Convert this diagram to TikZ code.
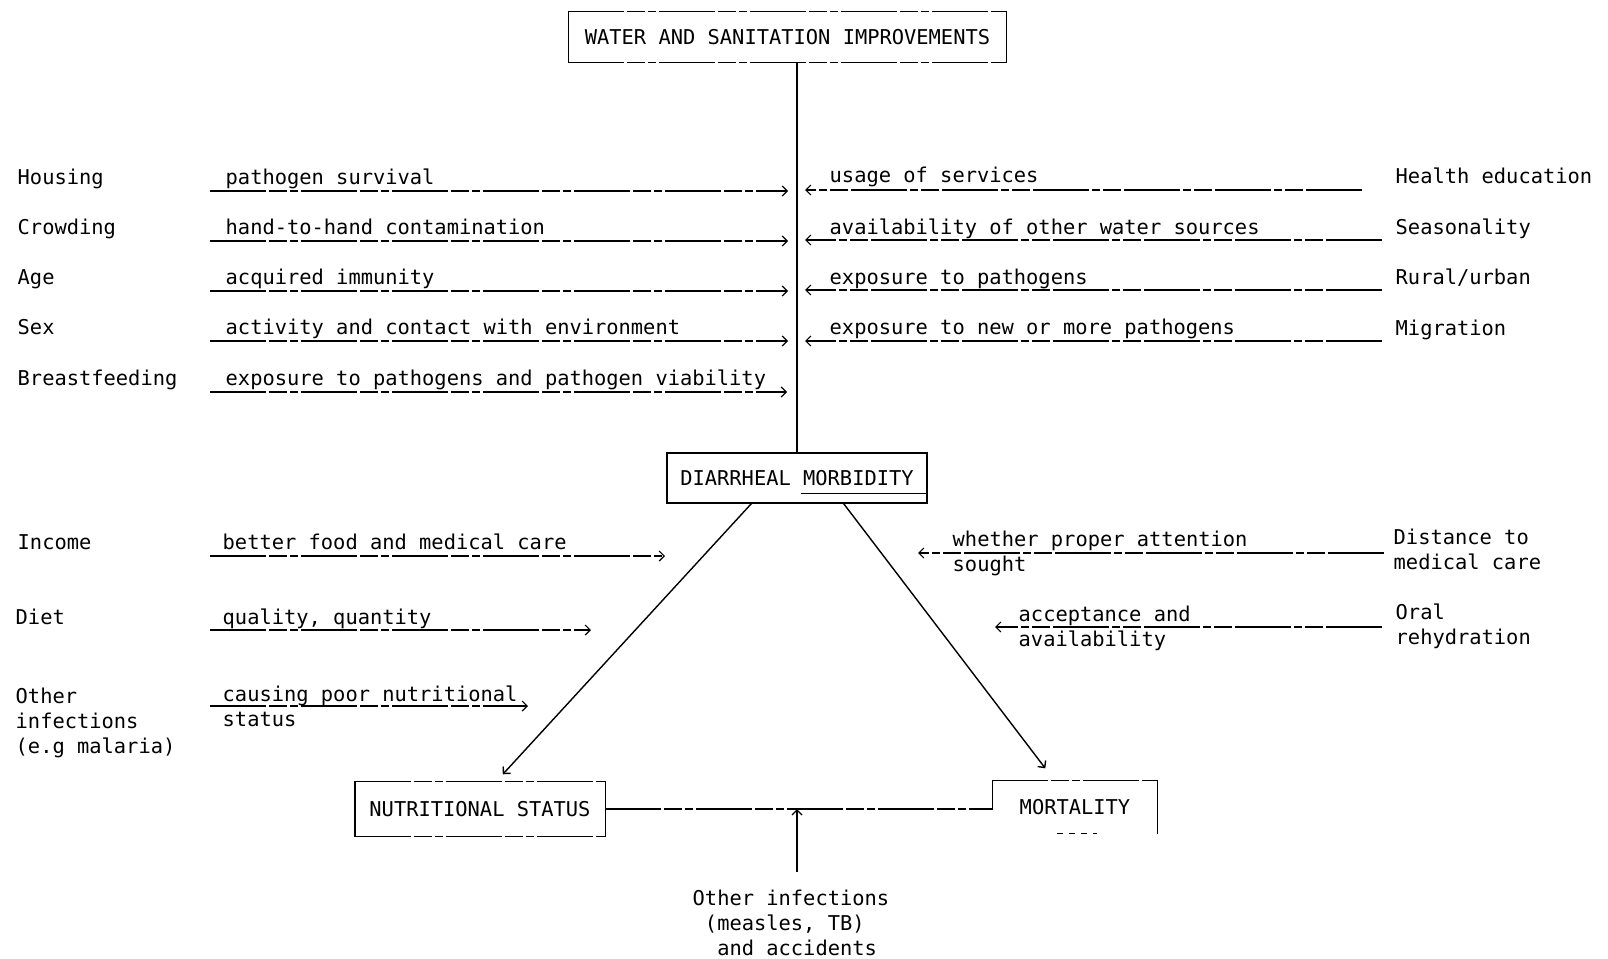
\documentclass[tikz,border=0pt]{standalone}
\usepackage{fontspec}
\setmainfont{DejaVu Sans Mono}
\usetikzlibrary{arrows.meta, calc}

\tikzset{
  txt/.style={anchor=base west, inner sep=0pt, align=left, font=\fontsize{10.2}{12.5}\selectfont},
  box/.style={inner sep=0pt, font=\fontsize{10.2}{12.5}\selectfont},
  guide/.style={line width=0.6pt, dash pattern=on 28pt off 1.5pt on 9pt off 1.5pt on 4pt off 1.5pt},
  tip/.style={-{Straight Barb[length=2.5pt,width=5pt]}},
}

\begin{document}
\begin{tikzpicture}[x=0.5pt, y=-0.5pt, line width=0.7pt]
  \useasboundingbox (0,0) rectangle (1608,959);

  % Main boxes
  \node[box, minimum width=218.5pt, minimum height=25pt] (wsi) at (787.5,37) {WATER AND SANITATION IMPROVEMENTS};
  \draw (wsi.north west) -- (wsi.south west);
  \draw (wsi.north east) -- (wsi.south east);
  \draw[guide] (wsi.north west) -- (wsi.north east);
  \draw[guide] (wsi.south west) -- (wsi.south east);

  \node[box, draw, minimum width=130pt, minimum height=25pt] (dm) at (797,478) {DIARRHEAL MORBIDITY};
  \draw ($(dm.south east)+(0,-10)$) -- ($(dm.south east)+(-127,-10)$);

  \node[box, minimum width=124.5pt, minimum height=27pt] (ns) at (480,809) {NUTRITIONAL STATUS};
  \draw (ns.north west) -- (ns.south west);
  \draw (ns.north east) -- (ns.south east);
  \draw[guide] (ns.north west) -- (ns.north east);
  \draw[guide] (ns.south west) -- (ns.south east);

  \node[box, minimum width=82pt, minimum height=26pt] (mo) at (1075,807) {MORTALITY};
  \draw (mo.north west) -- ($(mo.north west)+(0,30)$);
  \draw (mo.north east) -- (mo.south east);
  \draw[guide] (mo.north west) -- (mo.north east);
  \draw[dashed] ($(mo.south)+(-18,0)$) -- ($(mo.south)+(22,0)$);

  % Spine from the improvements down to morbidity
  \draw[line width=0.9pt] (wsi.south -| dm.north) -- (dm.north);

  % Left-hand factors
  \node[txt] (housing) at (17,184) {Housing};
  \node[txt] (crowding) at (17,234) {Crowding};
  \node[txt] (age) at (17,284) {Age};
  \node[txt] (sex) at (17,334) {Sex};
  \node[txt] (breast) at (17,385) {Breastfeeding};

  \node[txt] (survival) at (225,184) {pathogen survival};
  \node[txt] (handtohand) at (225,234) {hand-to-hand contamination};
  \node[txt] (immunity) at (225,284) {acquired immunity};
  \node[txt] (activity) at (225,334) {activity and contact with environment};
  \node[txt] (viability) at (225,385) {exposure to pathogens and pathogen viability};

  \coordinate (survival-s) at (210,191);   \coordinate (survival-e) at (788,191);
  \coordinate (handtohand-s) at (210,241); \coordinate (handtohand-e) at (788,241);
  \coordinate (immunity-s) at (210,291);   \coordinate (immunity-e) at (788,291);
  \coordinate (activity-s) at (210,341);   \coordinate (activity-e) at (788,341);
  \coordinate (viability-s) at (210,392);  \coordinate (viability-e) at (787,392);
  \draw[guide, tip] (survival-s) -- (survival-e);
  \draw[guide, tip] (handtohand-s) -- (handtohand-e);
  \draw[guide, tip] (immunity-s) -- (immunity-e);
  \draw[guide, tip] (activity-s) -- (activity-e);
  \draw[guide, tip] (viability-s) -- (viability-e);

  % Right-hand factors
  \node[txt] (usage) at (829,182) {usage of services};
  \node[txt] (sources) at (829,234) {availability of other water sources};
  \node[txt] (exposure) at (829,284) {exposure to pathogens};
  \node[txt] (newpath) at (829,334) {exposure to new or more pathogens};

  \node[txt] (healthed) at (1395,183) {Health education};
  \node[txt] (season) at (1395,234) {Seasonality};
  \node[txt] (rural) at (1395,284) {Rural/urban};
  \node[txt] (migration) at (1395,335) {Migration};

  \coordinate (usage-s) at (1362,190);    \coordinate (usage-e) at (805,190);
  \coordinate (sources-s) at (1382,240);  \coordinate (sources-e) at (805,240);
  \coordinate (exposure-s) at (1382,290); \coordinate (exposure-e) at (805,290);
  \coordinate (newpath-s) at (1382,341);  \coordinate (newpath-e) at (805,341);
  \draw[guide, tip] (usage-s) -- (usage-e);
  \draw[guide, tip] (sources-s) -- (sources-e);
  \draw[guide, tip] (exposure-s) -- (exposure-e);
  \draw[guide, tip] (newpath-s) -- (newpath-e);

  % Morbidity to nutrition and mortality
  \draw[tip] ($(dm.south west)+(85,0)$) -- ($(ns.north west)+(148,-7)$);
  \draw[tip] ($(dm.south east)+(-84,0)$) -- ($(mo.north west)+(53,-12)$);

  % Lower left factors (base = last line)
  \node[txt] (income) at (17,549) {Income};
  \node[txt] (diet) at (15,624) {Diet};
  \node[txt] (othinf) at (15,753) {Other\\infections\\(e.g malaria)};

  \node[txt] (food) at (222,549) {better food and medical care};
  \node[txt] (quality) at (222,624) {quality, quantity};
  \node[txt] (poor) at (222,726) {causing poor nutritional\\status};

  \coordinate (food-s) at (210,556);    \coordinate (food-e) at (665,556);
  \coordinate (quality-s) at (210,630); \coordinate (quality-e) at (591,630);
  \coordinate (poor-s) at (210,706);    \coordinate (poor-e) at (528,706);
  \draw[guide, tip] (food-s) -- (food-e);
  \draw[guide, tip] (quality-s) -- (quality-e);
  \draw[guide, tip] (poor-s) -- (poor-e);

  % Lower right factors
  \node[txt] (attention) at (952,571) {whether proper attention\\sought};
  \node[txt] (distance) at (1393,569) {Distance to\\medical care};
  \node[txt] (accept) at (1018,646) {acceptance and\\availability};
  \node[txt] (oral) at (1395,644) {Oral\\rehydration};

  \coordinate (attention-s) at (1384,553); \coordinate (attention-e) at (918,553);
  \coordinate (accept-s) at (1382,627);    \coordinate (accept-e) at (995,627);
  \draw[guide, tip] (attention-s) -- (attention-e);
  \draw[guide, tip] (accept-s) -- (accept-e);

  % Nutrition -- mortality link and other infections
  \draw[guide] (ns.east) -- (ns.east -| mo.west);
  \node[txt, anchor=north west] (othacc) at (692,889) {Other infections\\\phantom{x}(measles, TB)\\\phantom{xx}and accidents};
  \coordinate (othacc-top) at (797,872);
  \draw[tip] (othacc-top) -- (othacc-top |- ns.east);
\end{tikzpicture}
\end{document}
